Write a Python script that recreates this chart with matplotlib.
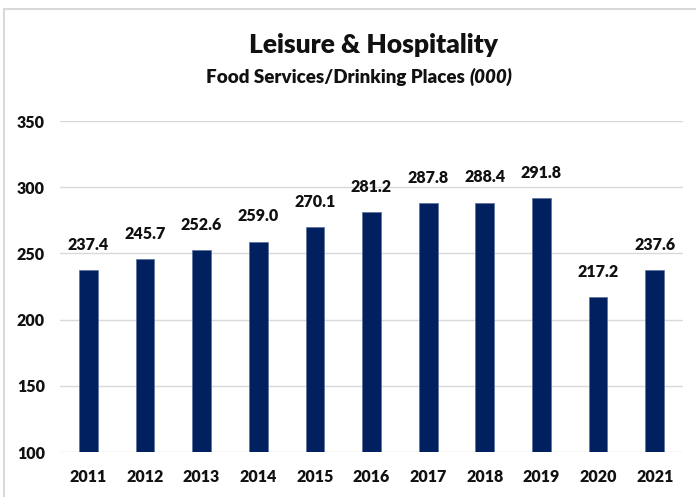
import matplotlib.pyplot as plt
from matplotlib.patches import Rectangle

years = ['2011', '2012', '2013', '2014', '2015', '2016', '2017', '2018', '2019', '2020', '2021']
jobs = [237.4, 245.7, 252.6, 259.0, 270.1, 281.2, 287.8, 288.4, 291.8, 217.2, 237.6]
y_ticks = [100, 150, 200, 250, 300, 350]

plt.rcParams['font.family'] = ['Lato', 'DejaVu Sans']
navy = '#002060'
text_color = '#111111'
weight = 'heavy'

fig = plt.figure(figsize=(6.96, 4.97), dpi=100)
ax = fig.add_axes([0.0862, 0.0905, 0.8952, 0.666])

x = range(len(years))
ax.bar(x, [v - 100 for v in jobs], bottom=100, width=0.33, color=navy,
       edgecolor='#5a6f9a', linewidth=0.5, zorder=3)

for xi, v in zip(x, jobs):
    ax.text(xi, v + 13, f'{v:.1f}', ha='center', va='bottom', fontsize=11.5,
            fontweight=weight, color=text_color)

ax.set_xlim(-0.5, len(years) - 0.5)
ax.set_ylim(100, 350)
ax.set_yticks(y_ticks)
ax.set_xticks(list(x))
ax.set_xticklabels(years)
ax.tick_params(axis='both', length=0, labelsize=11.5, colors=text_color)
ax.tick_params(axis='x', pad=12)
ax.tick_params(axis='y', pad=31)
for lbl in ax.get_xticklabels() + ax.get_yticklabels():
    lbl.set_fontweight(weight)
for lbl in ax.get_yticklabels():
    lbl.set_horizontalalignment('left')

ax.grid(axis='y', color='#d9d9d9', linewidth=1, zorder=0)
for s in ax.spines.values():
    s.set_visible(False)

fig.text(0.536, 1 - 45 / 497, 'Leisure & Hospitality', ha='center', va='center',
         fontsize=19, fontweight=weight, color=text_color)
fig.text(0.674, 1 - 77 / 497, 'Food Services/Drinking Places ', ha='right', va='center',
         fontsize=13.5, fontweight=weight, color=text_color)
fig.text(0.674, 1 - 77 / 497, '(000)', ha='left', va='center',
         fontsize=13.5, fontweight=weight, style='italic', color=text_color)

fig.patches.append(Rectangle((4 / 696, -0.05), 1.1, 1 - 9 / 497 + 0.05,
                             transform=fig.transFigure, fill=False,
                             edgecolor='#d9d9d9', linewidth=1.5))

fig.savefig('out.png', dpi=100)
